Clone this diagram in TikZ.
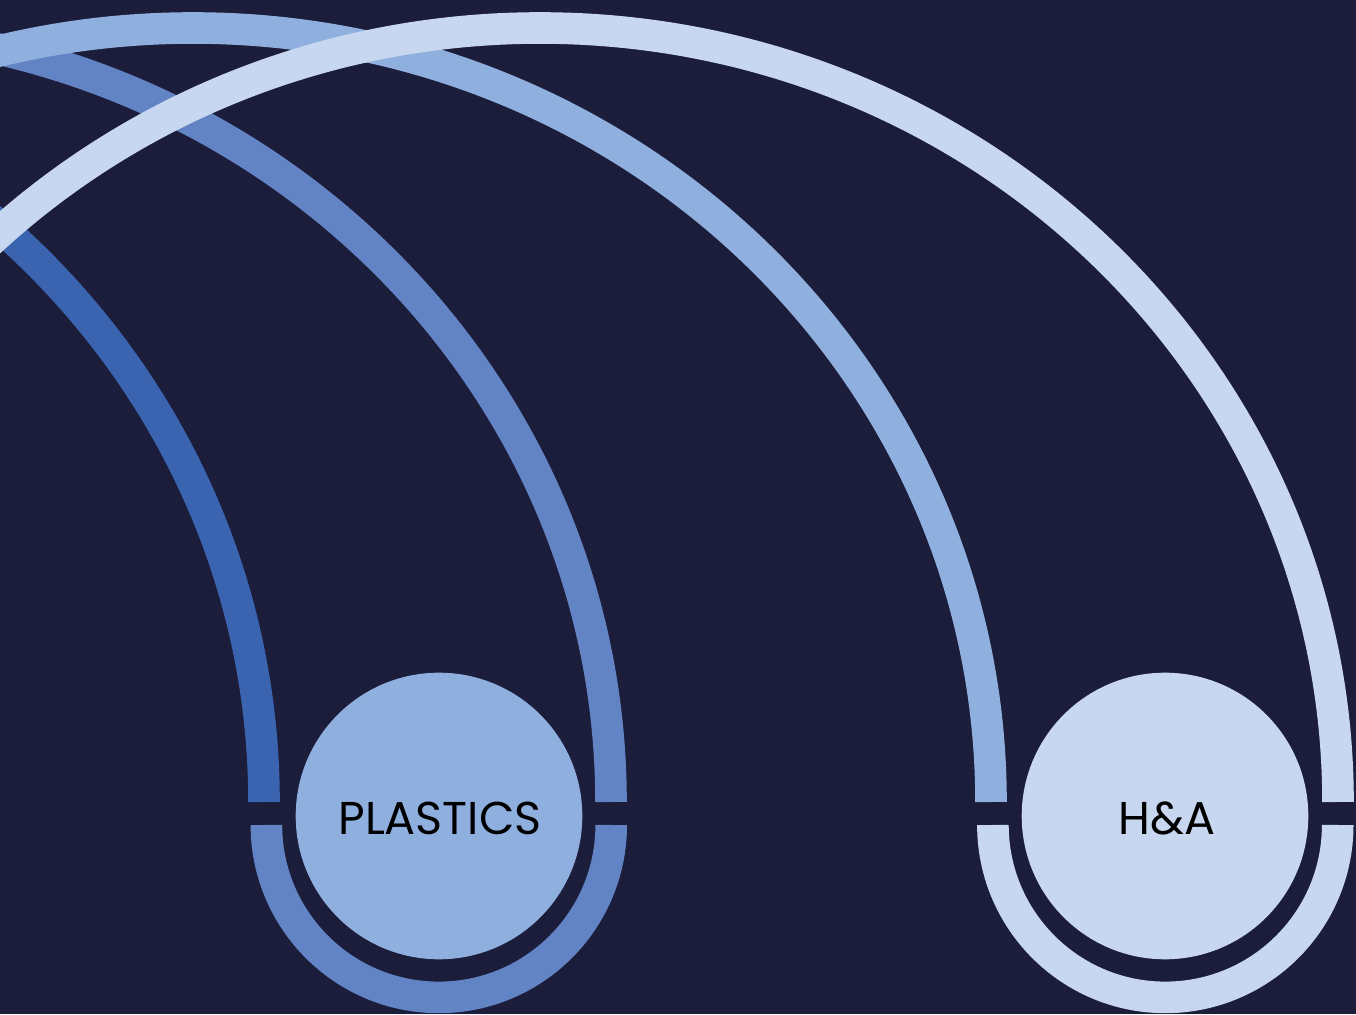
\documentclass[tikz,border=0pt]{standalone}
\usepackage{fontspec}
\setmainfont{Poppins}
\definecolor{bgnavy}{HTML}{1C1D3B}
\definecolor{bluedark}{HTML}{3A64B0}
\definecolor{bluemid}{HTML}{6284C4}
\definecolor{bluelight}{HTML}{8FB0DE}
\definecolor{bluepale}{HTML}{C8D7F0}
\begin{document}
\begin{tikzpicture}[x=1pt,y=1pt,
  band/.style={line width=31.6pt, line cap=butt},
  bigarc/.style={band},
  hub/.style={circle, minimum size=286.6pt, inner sep=0pt},
  hublabel/.style={font=\fontsize{46}{50}\selectfont, text=black, anchor=base, inner sep=0pt}]
\useasboundingbox (0,0) rectangle (1356,1014);
\fill[bgnavy] (0,0) rectangle (1356,1014);
\clip (0,0) rectangle (1356,1014);
% big upper arcs (elliptical, centres at y=212)
\draw[bigarc, bluedark]  (264,212)  arc[start angle=0, end angle=180, x radius=798, y radius=774];
\draw[bigarc, bluemid]   (611,212)  arc[start angle=0, end angle=180, x radius=798, y radius=774];
\draw[bigarc, bluelight] (991,212)  arc[start angle=0, end angle=180, x radius=798, y radius=774];
\draw[bigarc, bluepale]  (1338,212) arc[start angle=0, end angle=180, x radius=798, y radius=774];
% lower half rings
\draw[band, bluemid]  (611.2,189) arc[start angle=0, end angle=-180, radius=172.4];
\draw[band, bluepale] (1337.7,189) arc[start angle=0, end angle=-180, radius=172.4];
% hubs
\node[hub, fill=bluelight] (plastics) at (439,198) {};
\node[hub, fill=bluepale]  (ha) at (1165,198) {};
\node[hublabel] (plasticslabel) at (440,179) {PLASTICS};
\node[hublabel] (halabel) at (1167,179) {H\&A};
\end{tikzpicture}
\end{document}
